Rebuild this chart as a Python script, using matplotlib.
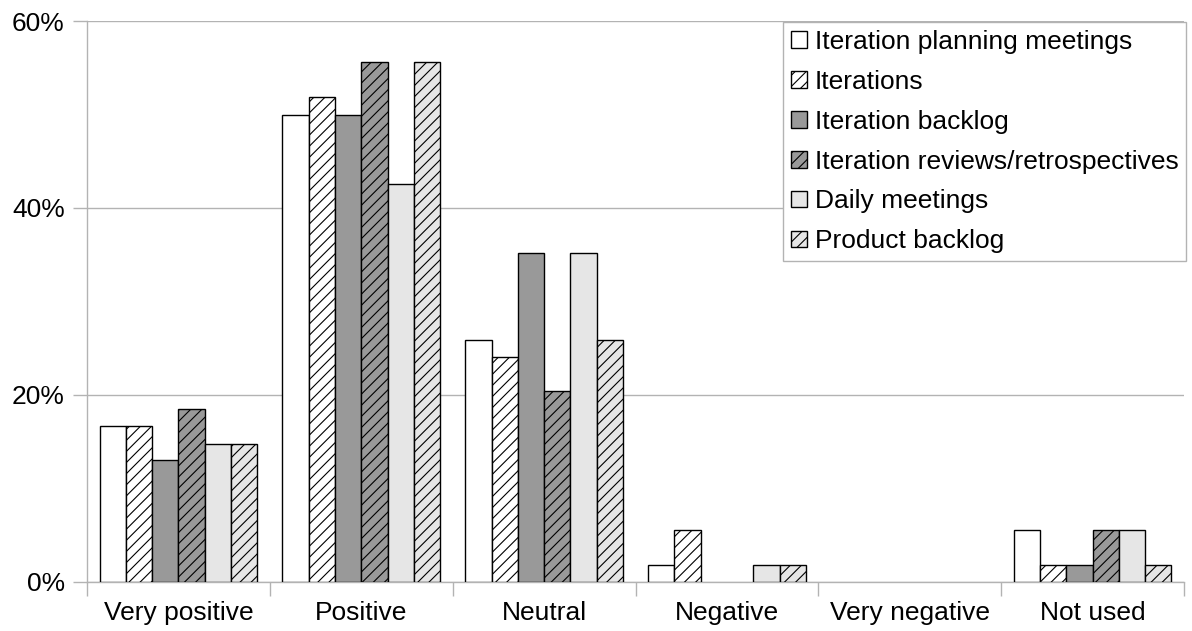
import numpy as np
import matplotlib
matplotlib.use("Agg")
import matplotlib.pyplot as plt
from matplotlib.ticker import FixedLocator, PercentFormatter

plt.rcParams['font.family'] = ['Liberation Sans', 'DejaVu Sans']
plt.rcParams['hatch.linewidth'] = 0.8

categories = ['Very positive', 'Positive', 'Neutral', 'Negative', 'Very negative', 'Not used']
series_names = ['Iteration planning meetings', 'Iterations', 'Iteration backlog',
                'Iteration reviews/retrospectives', 'Daily meetings', 'Product backlog']

# share of respondents per answer, in percent
planning_meetings = [16.7, 50.0, 25.9, 1.85, 0.0, 5.56]
iterations = [16.7, 51.9, 24.1, 5.56, 0.0, 1.85]
iteration_backlog = [13.0, 50.0, 35.2, 0.0, 0.0, 1.85]
reviews_retros = [18.5, 55.6, 20.4, 0.0, 0.0, 5.56]
daily_meetings = [14.8, 42.6, 35.2, 1.85, 0.0, 5.56]
product_backlog = [14.8, 55.6, 25.9, 1.85, 0.0, 1.85]

series = [planning_meetings, iterations, iteration_backlog,
          reviews_retros, daily_meetings, product_backlog]
fills = ['#ffffff', '#ffffff', '#999999', '#999999', '#e6e6e6', '#e6e6e6']
hatches = [None, '///', None, '///', None, '///']

fig = plt.figure(figsize=(11.92, 6.31), dpi=100)
ax = fig.add_axes([0.073, 0.0777, 0.9933 - 0.073, 0.9667 - 0.0777])

x = np.arange(len(categories))
group = 0.863
w = group / len(series)
for i, vals in enumerate(series):
    vals = np.asarray(vals, dtype=float)
    off = -group / 2 + w * (i + 0.5)
    shown = vals > 0  # empty answers get no outline on the baseline
    ax.bar(x[shown] + off, vals[shown], w, color=fills[i], edgecolor='black',
           linewidth=1.0, hatch=hatches[i], label=series_names[i], zorder=3)

ax.set_xlim(-0.5, len(categories) - 0.5)
ax.set_ylim(0, 60)
ax.yaxis.set_major_locator(FixedLocator([0, 20, 40, 60]))
ax.yaxis.set_major_formatter(PercentFormatter(decimals=0))
ax.grid(axis='y', color='#b3b3b3', linewidth=1.0, zorder=0)

ax.set_xticks(x)
ax.set_xticklabels(categories)
ax.set_xticks(np.arange(-0.5, len(categories)), minor=True)
ax.tick_params(axis='x', which='major', length=0, pad=14, labelsize=19)
ax.tick_params(axis='x', which='minor', length=10, color='#b3b3b3', width=1.0)
ax.tick_params(axis='y', length=10, color='#b3b3b3', width=1.0, labelsize=19, pad=6)

for side in ['top', 'right']:
    ax.spines[side].set_visible(False)
for side in ['left', 'bottom']:
    ax.spines[side].set_color('#b3b3b3')
    ax.spines[side].set_linewidth(1.0)

leg = ax.legend(loc='upper right', bbox_to_anchor=(1.002, 0.998), fontsize=19,
                frameon=True, fancybox=False, edgecolor='#b3b3b3', framealpha=1,
                handlelength=0.6, handleheight=0.6, handletextpad=0.3,
                labelspacing=0.6, borderpad=0.3, borderaxespad=0)
leg.get_frame().set_linewidth(1.0)
leg.set_zorder(5)

fig.savefig('out.png', dpi=100)
